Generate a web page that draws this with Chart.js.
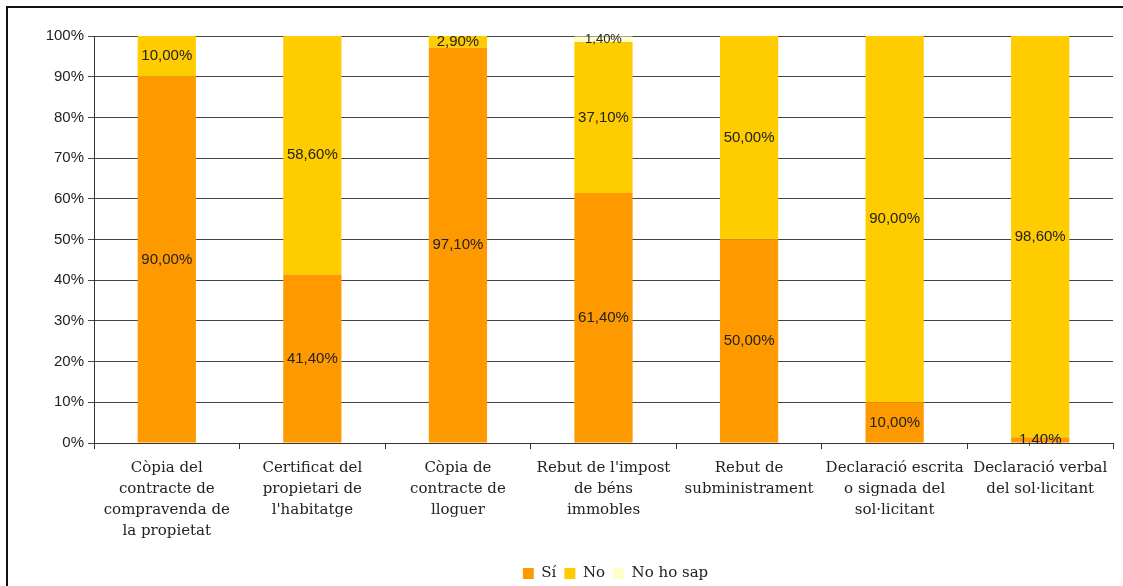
<!DOCTYPE html>
<html>
<head>
<meta charset="utf-8">
<script src="https://cdn.jsdelivr.net/npm/chart.js"></script>
<style>
  html, body { margin: 0; padding: 0; background: #fff; }
  #wrap { width: 1123px; height: 586px; }
</style>
</head>
<body>
<div id="wrap"><canvas id="myChart" width="1123" height="586"></canvas></div>
<script>

const categories = [
  ['Còpia del', 'contracte de', 'compravenda de', 'la propietat'],
  ['Certificat del', 'propietari de', "l'habitatge"],
  ['Còpia de', 'contracte de', 'lloguer'],
  ["Rebut de l'impost", 'de béns', 'immobles'],
  ['Rebut de', 'subministrament'],
  ['Declaració escrita', 'o signada del', 'sol·licitant'],
  ['Declaració verbal', 'del sol·licitant']
]

const si = [90.0, 41.4, 97.1, 61.4, 50.0, 10.0, 1.4]
const no = [10.0, 58.6, 2.9, 37.1, 50.0, 90.0, 98.6]
const noHoSap = [0, 0, 0, 1.4, 0, 0, 0]

// etiquetes dins de cada segment, format català amb coma
const etiquetes = {
  id: 'etiquetes',
  afterDatasetsDraw(chart) {
    const ctx = chart.ctx
    ctx.save()
    ctx.fillStyle = '#222'
    ctx.textAlign = 'center'
    ctx.textBaseline = 'middle'
    chart.data.datasets.forEach((ds, i) => {
      const meta = chart.getDatasetMeta(i)
      const size = i == 2 ? 13 : 15
      ctx.font = size + 'px "Liberation Sans", Arial, sans-serif'
      meta.data.forEach((bar, j) => {
        const v = ds.data[j]
        if (!v) return
        const y = (bar.y + bar.base) / 2
        ctx.fillText(v.toFixed(2).replace('.', ',') + '%', bar.x, y)
      })
    })
    ctx.restore()
  }
}

// marc del gràfic + llegenda una mica desplaçada a la dreta
const marc = {
  id: 'marc',
  afterLayout(chart) {
    chart.legend.left += 49
    chart.legend.right += 49
  },
  afterDraw(chart) {
    const ctx = chart.ctx
    ctx.save()
    ctx.strokeStyle = '#111'
    ctx.lineWidth = 2
    ctx.beginPath()
    ctx.moveTo(7, 586)
    ctx.lineTo(7, 7)
    ctx.lineTo(1123, 7)
    ctx.stroke()
    ctx.restore()
  }
}

const data = {
  labels: categories,
  datasets: [
    { label: 'Sí', data: si, backgroundColor: '#FF9900' },
    { label: 'No', data: no, backgroundColor: '#FFCC00' },
    { label: 'No ho sap', data: noHoSap, backgroundColor: '#FFFFCC' }
  ]
}

const config = {
  type: 'bar',
  data: data,
  options: {
    responsive: false,
    animation: false,
    layout: { padding: { top: 36, left: 20, right: 10, bottom: -5 } },
    datasets: { bar: { barPercentage: 0.4, categoryPercentage: 1.0 } },
    scales: {
      x: {
        stacked: true,
        grid: { offset: true, drawOnChartArea: false, color: '#333', tickLength: 6 },
        border: { color: '#333' },
        ticks: {
          color: '#222',
          maxRotation: 0,
          autoSkip: false,
          padding: 9,
          font: { family: '"DejaVu Serif", serif', size: 15, lineHeight: 1.4 }
        },
        afterFit(scale) { scale.height = 115 }
      },
      y: {
        stacked: true,
        min: 0,
        max: 100,
        grid: { color: '#444', tickLength: 6 },
        border: { color: '#333' },
        ticks: {
          stepSize: 10,
          color: '#222',
          padding: 4,
          font: { family: '"Liberation Sans", Arial, sans-serif', size: 15 },
          callback: v => v + '%'
        },
        afterFit(scale) { scale.width = 74 }
      }
    },
    plugins: {
      legend: {
        position: 'bottom',
        labels: {
          boxWidth: 11,
          boxHeight: 11,
          padding: 8,
          color: '#222',
          font: { family: '"DejaVu Serif", serif', size: 15 }
        }
      },
      tooltip: { enabled: false }
    }
  },
  plugins: [etiquetes, marc]
}

const myChart = new Chart(document.getElementById('myChart'), config)

</script>
</body>
</html>
